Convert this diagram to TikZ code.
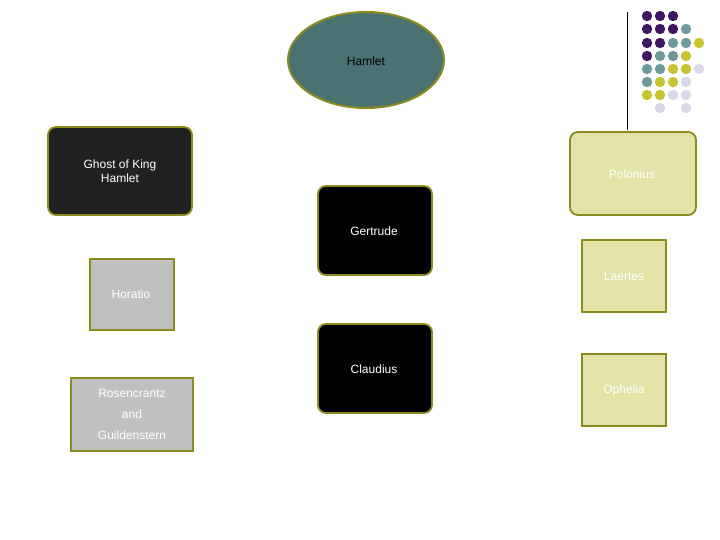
\documentclass[tikz,border=0pt]{standalone}
\usepackage{fontspec}
\setmainfont{Liberation Sans}
\definecolor{olv}{HTML}{8A8A1E}
\definecolor{tealc}{HTML}{4A7272}
\definecolor{pale}{HTML}{E3E3A8}
\definecolor{grayb}{HTML}{C0C0C0}
\definecolor{dP}{HTML}{3F1660}
\definecolor{dT}{HTML}{6F9A9A}
\definecolor{dY}{HTML}{C8C430}
\definecolor{dL}{HTML}{D8D8E8}
\begin{document}
\begin{tikzpicture}[x=1pt,y=-1pt,
  rbox/.style={draw=olv,line width=1.8pt,rounded corners=8pt},
  sbox/.style={draw=olv,line width=1.8pt},
  lbl/.style={font=\fontsize{12}{14}\selectfont,align=center}]
\useasboundingbox (0,0) rectangle (720,540);
\fill[white] (0,0) rectangle (720,540);
% dots
\def\dotrow#1#2{\foreach \c [count=\i] in {#2}{\fill[\c] ({634+13*\i},#1) circle (5.2);}}
\dotrow{16}{dP,dP,dP}
\dotrow{29}{dP,dP,dP,dT}
\dotrow{43}{dP,dP,dT,dT,dY}
\dotrow{56}{dP,dT,dT,dY}
\dotrow{69}{dT,dT,dY,dY,dL}
\dotrow{82}{dT,dY,dY,dL}
\dotrow{95}{dY,dY,dL,dL}
\fill[dL] (660,108) circle (5.2);
\fill[dL] (686,108) circle (5.2);
\coordinate (lt) at (627,12); \coordinate (lb) at (627,130);
\draw[line width=0.8pt] (lt) -- (lb);
% nodes
\draw[olv,line width=2pt,fill=tealc] (366,60) ellipse (78 and 48);
\node[lbl] (hamlet) at (366,61) {Hamlet};
\draw[rbox,fill=black!87] (48,127) rectangle (192,215);
\node[lbl,text=white] (ghost) at (120,171) {Ghost of King\\Hamlet};
\draw[rbox,fill=pale] (570,132) rectangle (696,215);
\node[lbl,text=white] (polonius) at (632,174) {Polonius};
\draw[rbox,fill=black] (318,186) rectangle (432,275);
\node[lbl,text=white] (gertrude) at (374,231) {Gertrude};
\draw[rbox,fill=black] (318,324) rectangle (432,413);
\node[lbl,text=white] (claudius) at (374,369) {Claudius};
\draw[sbox,fill=grayb] (90,259) rectangle (174,330);
\node[lbl,text=white] (horatio) at (131,294) {Horatio};
\draw[sbox,fill=pale] (582,240) rectangle (666,312);
\node[lbl,text=white] (laertes) at (624,276) {Laertes};
\draw[sbox,fill=pale] (582,354) rectangle (666,426);
\node[lbl,text=white] (ophelia) at (624,390) {Ophelia};
\draw[sbox,fill=grayb] (71,378) rectangle (193,451);
\node[lbl,text=white,font=\fontsize{12}{21}\selectfont] (ros) at (132,414) {Rosencrantz\\and\\Guildenstern};
\end{tikzpicture}
\end{document}
